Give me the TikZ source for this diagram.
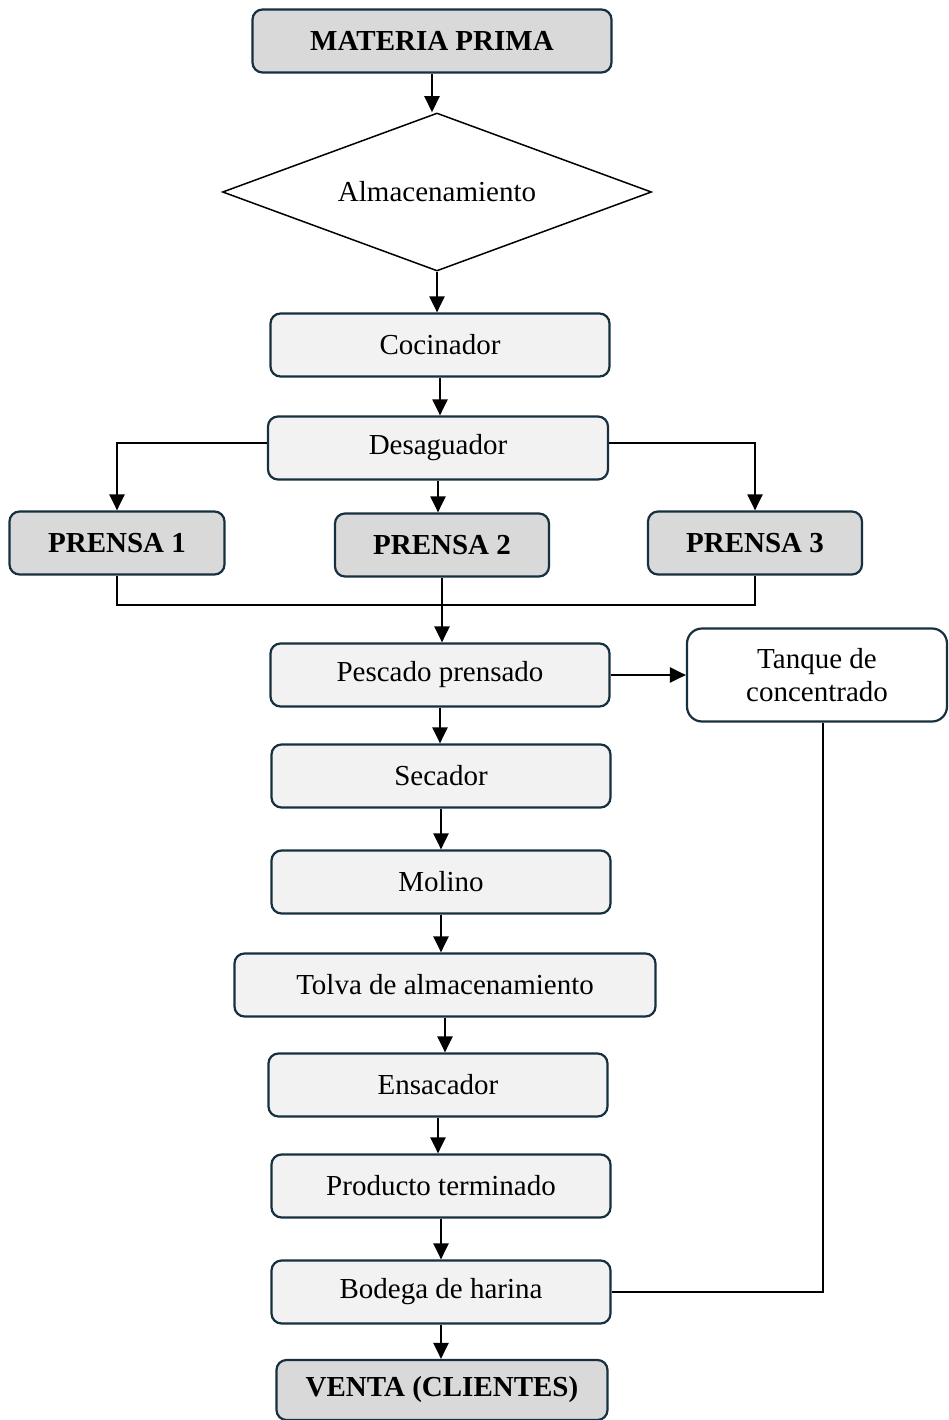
\documentclass[tikz,border=0pt]{standalone}
\usepackage{fontspec}
\setmainfont{Liberation Serif}
\usetikzlibrary{shapes.geometric,arrows.meta}

\definecolor{box_line}{HTML}{17303F}
\definecolor{box_light}{HTML}{F2F2F2}
\definecolor{box_gray}{HTML}{D9D9D9}

\begin{document}
\begin{tikzpicture}[x=1pt, y=-1pt,
  stage/.style={draw=box_line, line width=2.2pt, rounded corners=10pt, fill=box_light,
    minimum width=339pt, minimum height=63pt, inner sep=0pt, font=\fontsize{29}{33}\selectfont},
  key_stage/.style={stage, fill=box_gray, font=\fontsize{29}{33}\selectfont\bfseries},
  flow/.style={line width=2.2pt, -{Triangle[width=15pt,length=16pt]}},
  link/.style={line width=2.2pt}]
  \useasboundingbox (0,0) rectangle (949,1420);
  % draw process boxes
  \node[key_stage, minimum width=359pt] (materia_prima) at (432,41) {MATERIA PRIMA};
  \node[diamond, draw, line width=1.5pt, aspect=2.7, minimum width=429pt, minimum height=158pt,
    inner sep=0pt, font=\fontsize{29}{33}\selectfont] (almacen) at (437,192) {Almacenamiento};
  \node[stage] (cocinador) at (440,345) {Cocinador};
  \node[stage, minimum width=340pt] (desaguador) at (438,448) {Desaguador};
  \node[key_stage, minimum width=215pt] (prensa_1) at (117,543) {PRENSA 1};
  \node[key_stage, minimum width=214pt] (prensa_2) at (442,545) {PRENSA 2};
  \node[key_stage, minimum width=214pt] (prensa_3) at (755,543) {PRENSA 3};
  \node[stage] (pescado) at (440,675) {Pescado prensado};
  \node[stage, fill=white, rounded corners=15pt, minimum width=260pt, minimum height=93pt,
    align=center] (tanque) at (817,675) {Tanque de\\concentrado};
  \node[stage] (secador) at (441,776) {Secador};
  \node[stage] (molino) at (441,882) {Molino};
  \node[stage, minimum width=421pt] (tolva) at (445,985) {Tolva de almacenamiento};
  \node[stage] (ensacador) at (438,1085) {Ensacador};
  \node[stage] (producto) at (441,1186) {Producto terminado};
  \node[stage] (bodega) at (441,1292) {Bodega de harina};
  \node[key_stage, minimum width=331pt, minimum height=60pt] (venta) at (442,1390) {VENTA (CLIENTES)};
  \coordinate (prensa_join) at (440,605);
  % draw main flow arrows
  \draw[flow] (materia_prima.south) -- (materia_prima.south |- almacen.north);
  \draw[flow] (almacen.south) -- (almacen.south |- cocinador.north);
  \draw[flow] (cocinador.south) -- (cocinador.south |- desaguador.north);
  \draw[flow] ([yshift=5pt]desaguador.west) -| (prensa_1.north);
  \draw[flow] (desaguador.south) -- (desaguador.south |- prensa_2.north);
  \draw[flow] ([yshift=5pt]desaguador.east) -| (prensa_3.north);
  \draw[link] (prensa_1.south) |- (prensa_join) -| (prensa_3.south);
  \draw[flow] (prensa_2.south) -- (prensa_2.south |- pescado.north);
  \draw[flow] (pescado.east) -- (tanque.west);
  \draw[flow] (pescado.south) -- (pescado.south |- secador.north);
  \draw[flow] (secador.south) -- (secador.south |- molino.north);
  \draw[flow] (molino.south) -- (molino.south |- tolva.north);
  \draw[flow] (tolva.south) -- (tolva.south |- ensacador.north);
  \draw[flow] (ensacador.south) -- (ensacador.south |- producto.north);
  \draw[flow] (producto.south) -- (producto.south |- bodega.north);
  \draw[flow] (bodega.south) -- (bodega.south |- venta.north);
  % draw return line from tanque
  \draw[link] ([xshift=6pt]tanque.south) |- (bodega.east);
\end{tikzpicture}
\end{document}
